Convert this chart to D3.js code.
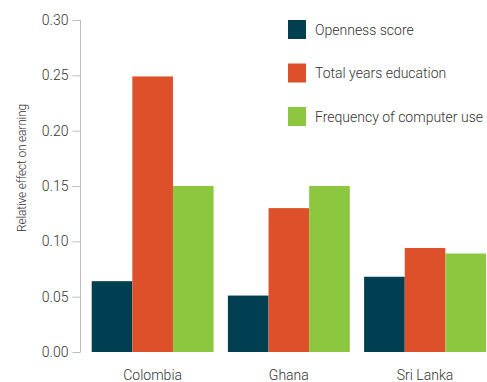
<!DOCTYPE html>
<html>
<head>
<meta charset="utf-8">
<script src="https://cdn.jsdelivr.net/npm/d3@7"></script>
<style>
  html, body { margin: 0; padding: 0; background: #fff; }
  svg text { font-family: "Roboto", "Open Sans", sans-serif; font-weight: 300; fill: #333; }
</style>
</head>
<body>
<svg id="chart" width="487" height="382"></svg>
<script>
// Countries along the x axis
const countries = ["Colombia", "Ghana", "Sri Lanka"];
// Series shown for each country
const seriesNames = ["Openness score", "Total years education", "Frequency of computer use"];
const seriesColors = ["#003f52", "#dd5029", "#8dc63f"];
// Values per series, in country order
const openness = [0.064, 0.051, 0.068];
const education = [0.249, 0.130, 0.094];
const computerUse = [0.150, 0.150, 0.089];
// Y tick values
const yTicks = [0, 0.05, 0.10, 0.15, 0.20, 0.25, 0.30];

const seriesValues = [openness, education, computerUse];
const rows = countries.map((c, i) => ({
  country: c,
  values: seriesNames.map((s, j) => ({ series: s, idx: j, value: seriesValues[j][i] }))
}));

const svg = d3.select("#chart");
const margin = { top: 20, left: 80.5 };
const plotBottom = 352;

const y = d3.scaleLinear().domain([0, 0.30]).range([plotBottom, margin.top]);
const x0 = d3.scaleBand().domain(countries).range([91.7, 486]).paddingInner(0.105).paddingOuter(0);
const x1 = d3.scaleBand().domain(seriesNames).range([0, x0.bandwidth()]).padding(0);

// Bars
const groups = svg.append("g").selectAll("g").data(rows).join("g")
  .attr("transform", d => `translate(${x0(d.country)},0)`);
groups.selectAll("rect").data(d => d.values).join("rect")
  .attr("x", d => x1(d.series))
  .attr("y", d => y(d.value))
  .attr("width", x1.bandwidth())
  .attr("height", d => y(0) - y(d.value))
  .attr("fill", d => seriesColors[d.idx]);

// Y axis
const yAxis = svg.append("g").attr("transform", `translate(${margin.left},0)`)
  .call(d3.axisLeft(y).tickValues(yTicks).tickFormat(d3.format(".2f")).tickSize(8).tickPadding(4));
yAxis.select(".domain").attr("stroke", "#bcbcbc").attr("d", `M0,${margin.top}V${plotBottom}`);
yAxis.selectAll(".tick line").attr("stroke", "#bcbcbc").attr("x1", -8).attr("x2", 0);
yAxis.selectAll(".tick text").attr("font-size", 14).style("fill", "#333")
  .attr("font-family", "Roboto, sans-serif");

// Y axis title
svg.append("text")
  .attr("transform", `translate(26,168) rotate(-90)`)
  .attr("text-anchor", "middle")
  .attr("font-size", 12)
  .attr("letter-spacing", -0.2)
  .text("Relative effect on earning");

// X labels
svg.append("g").selectAll("text").data(countries).join("text")
  .attr("x", d => x0(d) + x0.bandwidth() / 2)
  .attr("y", 380)
  .attr("text-anchor", "middle")
  .attr("font-size", 14)
  .text(d => d);

// Legend
const legend = svg.append("g").attr("transform", "translate(288,20)");
const item = legend.selectAll("g").data(seriesNames).join("g")
  .attr("transform", (d, i) => `translate(0,${i * 43.5})`);
item.append("rect").attr("width", 18).attr("height", 19)
  .attr("fill", (d, i) => seriesColors[i]);
item.append("text").attr("x", 27).attr("y", 14.5)
  .attr("font-size", 14)
  .text(d => d);
</script>
</body>
</html>
